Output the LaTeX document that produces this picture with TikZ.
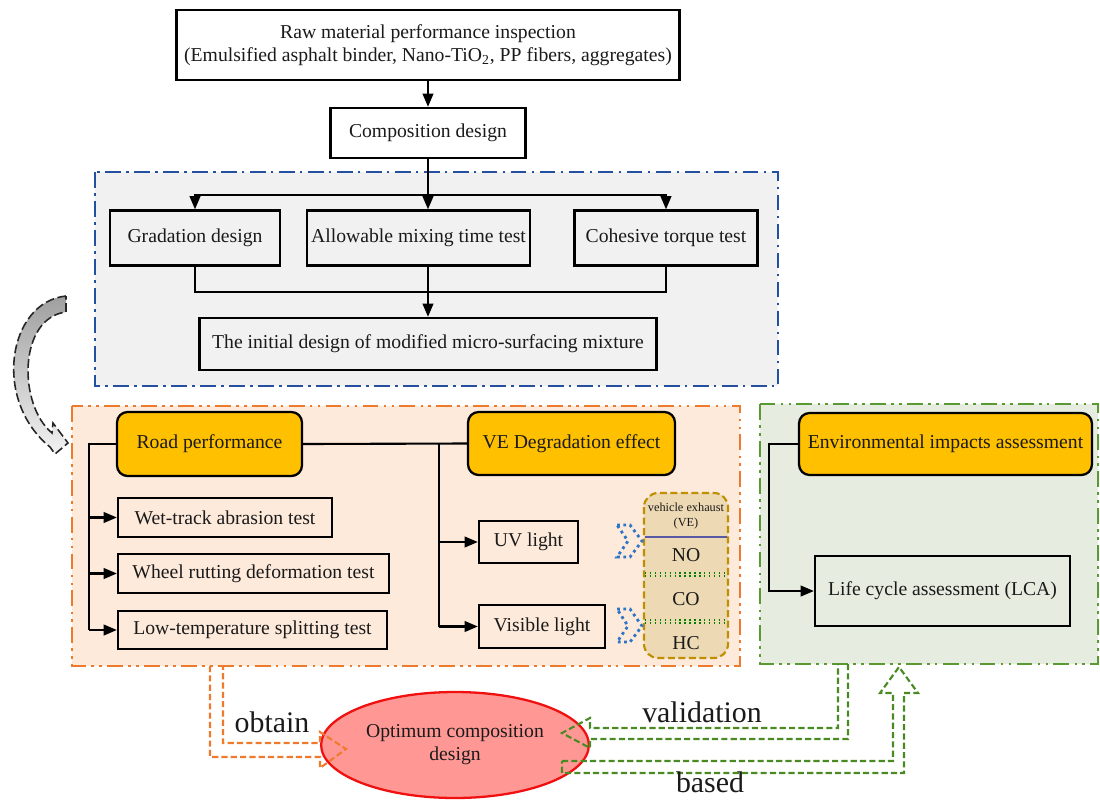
\documentclass[tikz,border=0pt]{standalone}
\usepackage{fontspec}
\setmainfont{Liberation Serif}
\usetikzlibrary{arrows.meta,shapes.geometric,calc}
\definecolor{hdrorange}{HTML}{FFC000}
\definecolor{peach}{HTML}{FDEADB}
\definecolor{orangeb}{HTML}{EE7A2E}
\definecolor{blueb}{HTML}{2550A0}
\definecolor{grayfill}{HTML}{F1F1F1}
\definecolor{greenfill}{HTML}{E7ECE0}
\definecolor{greenb}{HTML}{5A9A32}
\definecolor{arrgreen}{HTML}{4A8A22}
\definecolor{ellfill}{HTML}{FF9894}
\definecolor{ellred}{HTML}{F01010}
\definecolor{vetan}{HTML}{EDD9B4}
\definecolor{vebrown}{HTML}{BF8F00}
\definecolor{chevblue}{HTML}{2E75C8}
\definecolor{txt}{HTML}{1A1A1A}
\begin{document}
\begin{tikzpicture}[x=0.02cm,y=-0.02cm,
  every node/.style={text=txt},
  fnt/.style={font=\fontsize{11.2}{13.2}\selectfont},
  box/.style={fnt,draw=black,line width=1.3pt,inner sep=2pt,align=center},
  hdr/.style={box,fill=hdrorange,rounded corners=6pt},
  ln/.style={line width=1.2pt,draw=black},
  conn/.style={ln,-{Triangle[length=7.5pt,width=6pt]}},
  hollow/.style={line width=1.2pt,dash pattern=on 3.5pt off 1.8pt,line join=miter},
  bigl/.style={font=\fontsize{17}{19}\selectfont},
  frameb/.style={line width=1.3pt,dash pattern=on 9pt off 3pt on 1.5pt off 3pt},
  framedd/.style={line width=1.3pt,dash pattern=on 9pt off 3pt on 1.5pt off 3pt on 1.5pt off 3pt}
]
\useasboundingbox (0,0) rectangle (1100,799);
\fill[white] (0,0) rectangle (1100,799);

% frames
\draw[frameb,draw=blueb,fill=grayfill] (95,172) rectangle (778,386);
\draw[framedd,draw=orangeb,fill=peach] (72,406) rectangle (740,666);
\draw[framedd,draw=greenb,fill=greenfill] (760,404) rectangle (1098,664);

% top nodes
\node[box,minimum width=10.06cm,minimum height=1.4cm] (top) at (428,45)
  {Raw material performance inspection\\(Emulsified asphalt binder, Nano-TiO\textsubscript{2}, PP fibers, aggregates)};
\node[box,minimum width=3.9cm,minimum height=1.0cm] (comp) at (428,133) {Composition design};
\node[box,minimum width=3.4cm,minimum height=1.1cm] (grad) at (195,238) {Gradation design};
\node[box,minimum width=4.46cm,minimum height=1.1cm] (allow) at (418.5,238) {Allowable mixing time test};
\node[box,minimum width=3.66cm,minimum height=1.1cm] (cohes) at (666,238) {Cohesive torque test};
\node[box,minimum width=9.14cm,minimum height=1.04cm] (init) at (428,344) {The initial design of modified micro-surfacing mixture};

\draw[conn] (top) -- (comp);
\coordinate (jt) at (428,195);
\draw[conn] (comp.south) -- (comp.south |- allow.north);
\draw[conn] (jt) -| (grad.north);
\draw[conn] (jt) -| (cohes.north);
\coordinate (jb) at (428,292);
\draw[ln] (grad.south) |- (jb) -| (cohes.south);
\draw[conn] (allow.south -| init.north) -- (init.north);

% road performance
\node[hdr,minimum width=3.7cm,minimum height=1.28cm] (road) at (209.5,444) {Road performance};
\node[box,minimum width=4.28cm,minimum height=0.78cm] (wet) at (225,517.5) {Wet-track abrasion test};
\node[box,minimum width=5.42cm,minimum height=0.78cm] (wheel) at (253.5,573.5) {Wheel rutting deformation test};
\node[box,minimum width=5.38cm,minimum height=0.76cm] (low) at (252.5,630) {Low-temperature splitting test};
\coordinate (rl) at (89,444);
\draw[ln] (road.west) -- (rl) -- (rl |- low.west);
\draw[conn] (rl |- wet.west) -- (wet.west);
\draw[conn] (rl |- wheel.west) -- (wheel.west);
\draw[conn] (rl |- low.west) -- (low.west);

% VE degradation
\node[hdr,minimum width=4.14cm,minimum height=1.26cm] (ved) at (571.5,443.5) {VE Degradation effect};
\node[box,minimum width=1.98cm,minimum height=0.84cm] (uv) at (528.5,542) {UV light};
\node[box,minimum width=2.52cm,minimum height=0.86cm] (vis) at (542,626.5) {Visible light};
\draw[ln] (road.east) -- (ved.west);
\coordinate (vl) at (439,444);
\draw[ln] (vl) -- (vl |- vis.west);
\draw[conn] (vl |- uv.west) -- (uv.west);
\draw[conn] (vl |- vis.west) -- (vis.west);

% VE box
\draw[rounded corners=8pt,dash pattern=on 4pt off 2pt,draw=vebrown,fill=vetan,line width=1.2pt] (644,493) rectangle (728,658);
\draw[draw=gray!70!blue,line width=0.8pt] (645,537) -- (727,537);
\draw[draw=green!50!black,dotted,line width=0.8pt] (645,573) -- (727,573) (645,576) -- (727,576);
\draw[draw=green!50!black,dotted,line width=0.8pt] (645,620) -- (727,620) (645,623) -- (727,623);
\node[font=\fontsize{7}{8.5}\selectfont,align=center] (vet) at (686,516) {vehicle exhaust\\(VE)};
\node[fnt] (no) at (686,555) {NO};
\node[fnt] (co) at (686,599) {CO};
\node[fnt] (hc) at (686,643) {HC};

% chevrons
\draw[chevblue,dotted,line width=1.6pt] (617,525) -- (630,525) -- (642,541) -- (630,557) -- (617,557) -- (628,541) -- cycle;
\draw[chevblue,dotted,line width=1.6pt] (617,609) -- (630,609) -- (642,626) -- (630,642) -- (617,642) -- (628,626) -- cycle;

% environmental
\node[hdr,minimum width=5.86cm,minimum height=1.24cm] (env) at (945.5,444) {Environmental impacts assessment};
\node[box,minimum width=5.1cm,minimum height=1.4cm] (lca) at (942.5,591) {Life cycle assessment (LCA)};
\coordinate (el) at (769,444);
\draw[conn] (env.west) -- (el) |- (lca.west);

% ellipse
\node[ellipse,draw=ellred,fill=ellfill,line width=1.3pt,minimum width=4.34cm,minimum height=2.12cm,fnt,align=center] (opt) at (455,745) {Optimum composition\\design};

% hollow arrows
\draw[hollow,draw=orangeb] (210,666) -- (210,757) -- (320,757) -- (320,768) -- (346,749) -- (320,732) -- (320,743) -- (223,743) -- (223,666);
\draw[hollow,draw=arrgreen] (848,664) -- (848,739) -- (590,739) -- (590,748) -- (562,733) -- (590,718) -- (590,728) -- (838,728) -- (838,664);
\draw[hollow,draw=arrgreen] (562,761) -- (893,761) -- (893,693) -- (880,693) -- (899,667) -- (918,693) -- (904,693) -- (904,773) -- (562,773) -- cycle;
\node[bigl] (obt) at (272,722) {obtain};
\node[bigl] (val) at (702,712) {validation};
\node[bigl] (bas) at (710,782) {based};

% curved gray arrow
\shade[top color=gray!75,bottom color=gray!10,draw=gray!30!black,dash pattern=on 5pt off 2pt,line width=0.9pt]
  (66,296) .. controls (8,302) and (-8,400) .. (50,447) -- (55,454) -- (68,443) -- (53,423) -- (52,433)
  .. controls (18,405) and (18,318) .. (66,312) -- cycle;
\end{tikzpicture}
\end{document}
